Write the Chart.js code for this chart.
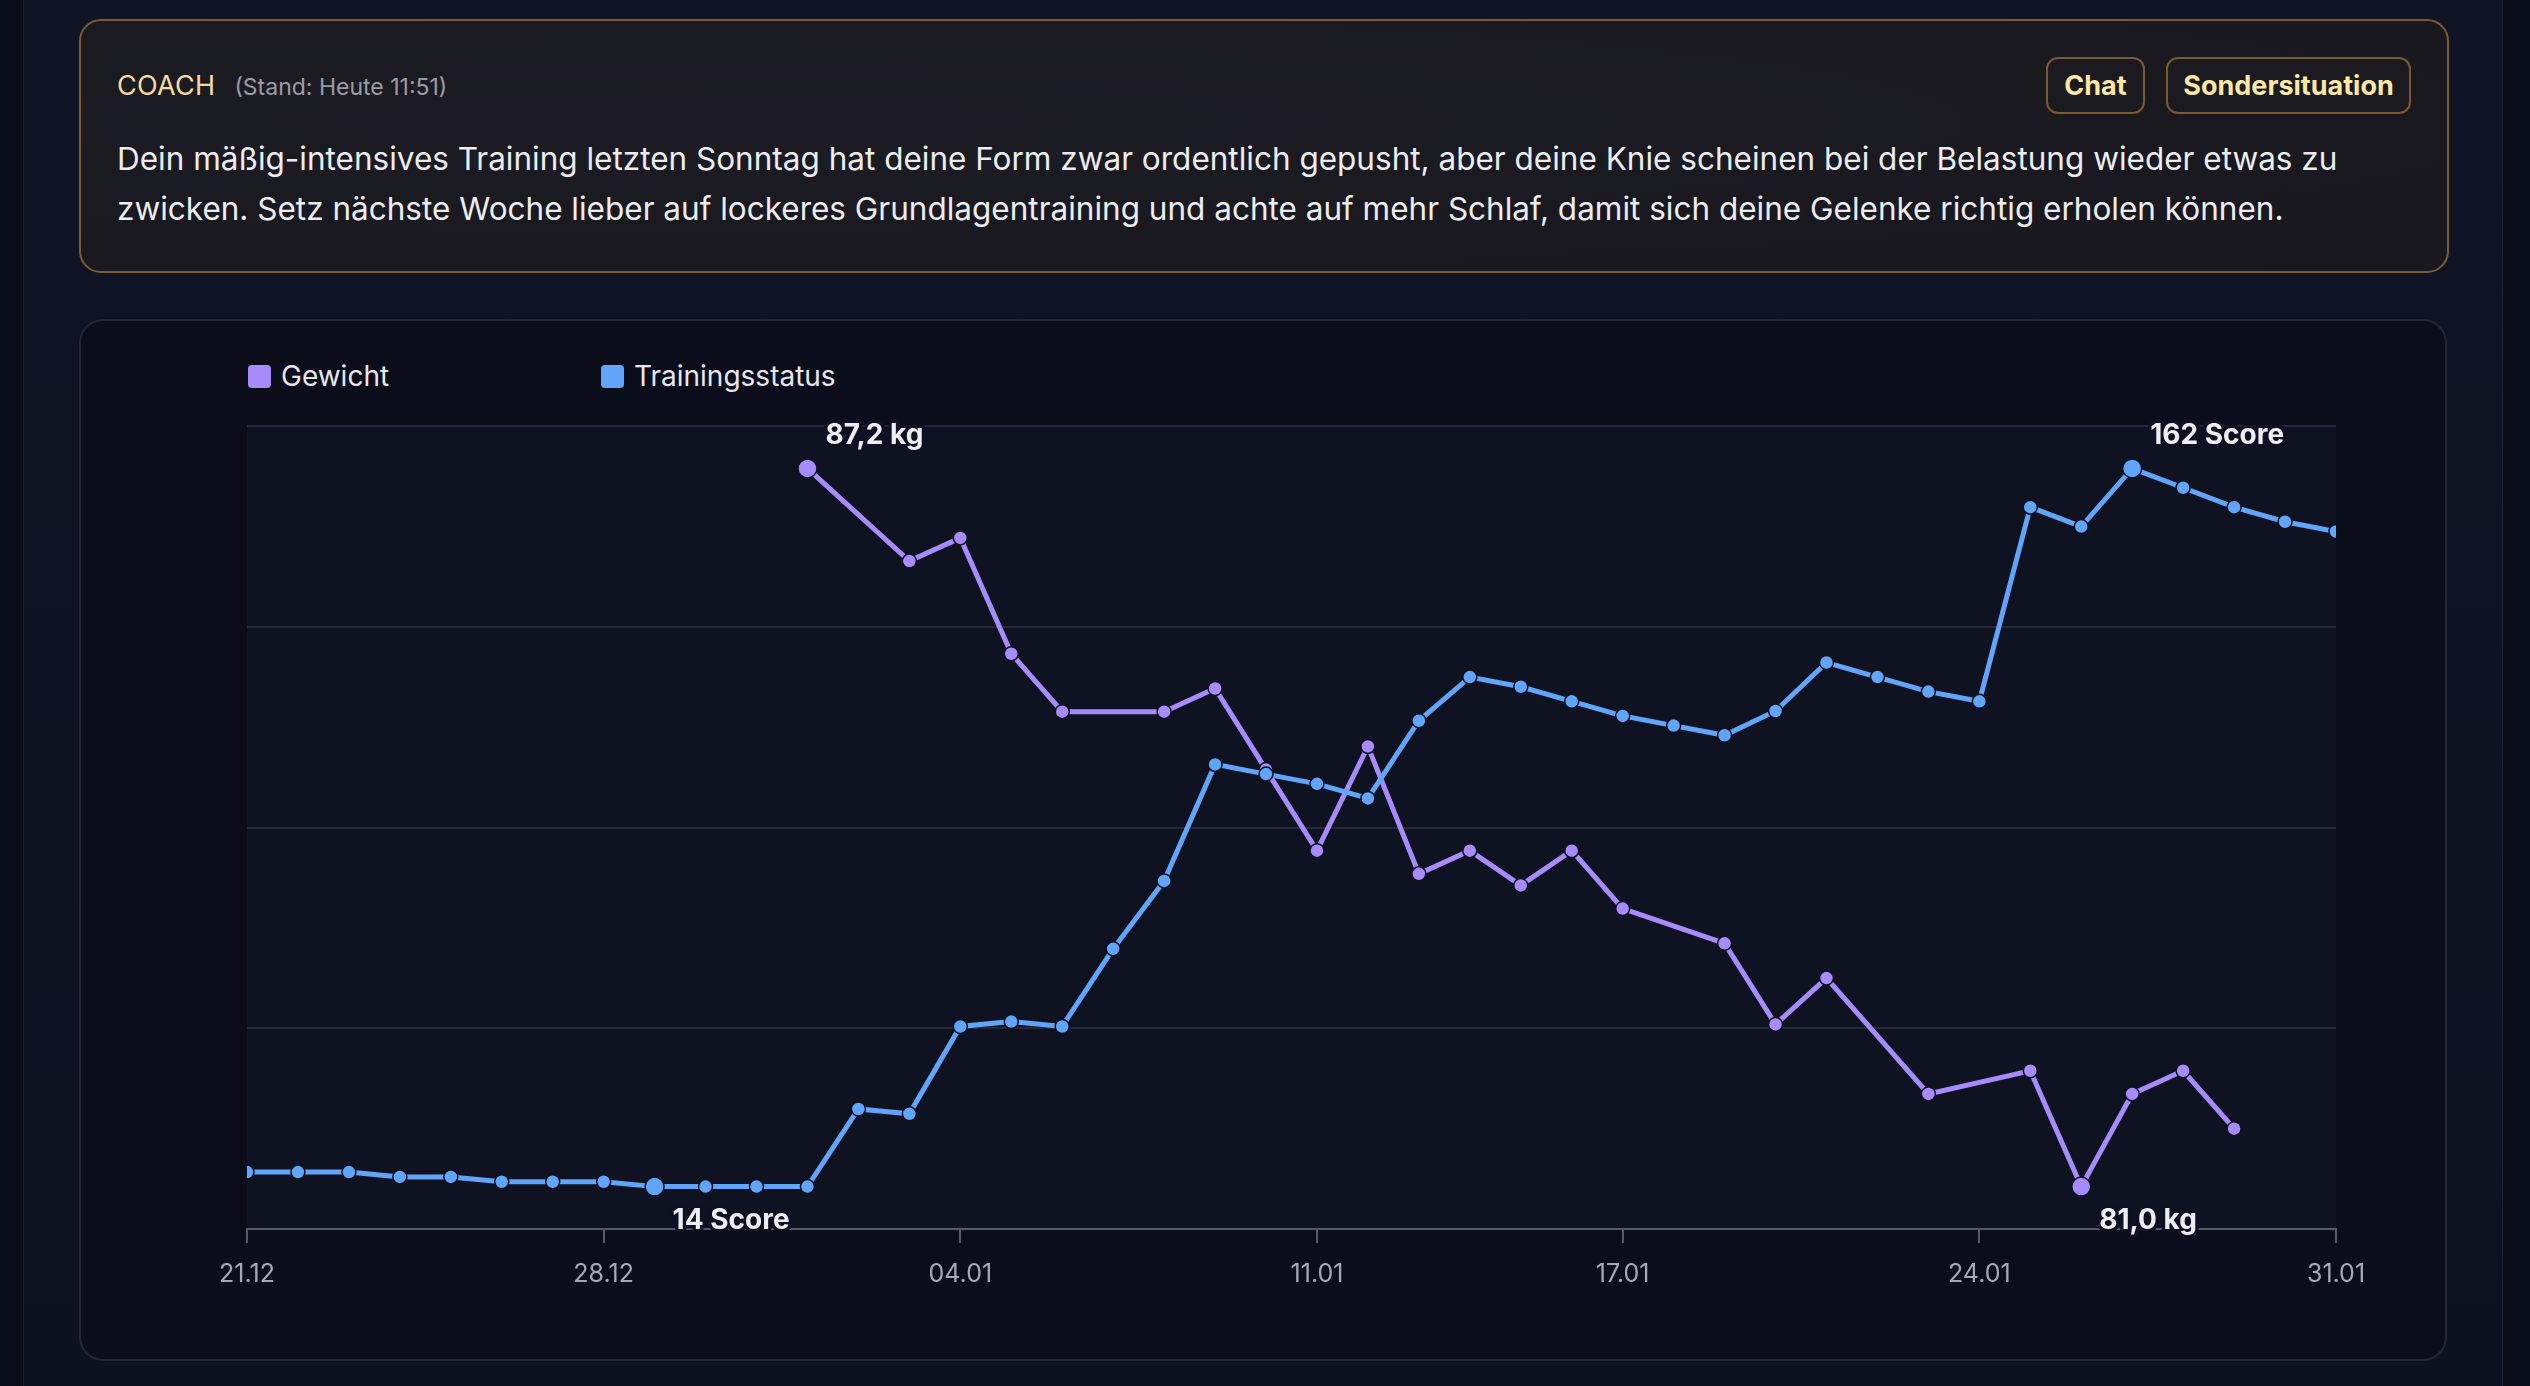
<!DOCTYPE html>
<html lang="de">
<head>
<meta charset="utf-8">
<title>Coach – Gewicht &amp; Trainingsstatus</title>
<script src="https://cdn.jsdelivr.net/npm/chart.js@4.4.1/dist/chart.umd.min.js"></script>
<style>
  html, body { margin: 0; padding: 0; }
  body {
    width: 2530px; height: 1386px; overflow: hidden; position: relative;
    background: #0a0e1a;
    font-family: Inter, "Noto Sans", sans-serif;
  }
  .panel {
    position: absolute; left: 23px; top: 0; width: 2480px; height: 1386px;
    background: linear-gradient(180deg, #101525 0%, #0d1221 100%);
    border-left: 1px solid #1b2132; border-right: 1px solid #1b2132;
    box-sizing: border-box;
  }
  .coach {
    position: absolute; left: 79px; top: 19px; width: 2370px; height: 254px;
    box-sizing: border-box; border: 2px solid #7a5c2c; border-radius: 22px;
    background: radial-gradient(ellipse at 25% 40%, #1d1c24 0%, #19191f 60%, #18181e 100%);
  }
  .coach-head { position: absolute; left: 36px; top: 52px; display: flex; align-items: baseline; }
  .coach-title { font-size: 27px; line-height: 26px; color: #f1dd9e; letter-spacing: 0.3px; }
  .coach-stand { font-size: 23px; line-height: 26px; color: #9c9ba3; margin-left: 19px; }
  .btn {
    position: absolute; top: 36px; height: 57px; box-sizing: border-box;
    border: 2px solid #7a5c2c; border-radius: 12px; background: #1a1a20;
    color: #fbe7a6; font-weight: 700; font-size: 27px;
    display: flex; align-items: center; justify-content: center;
  }
  .coach-text {
    position: absolute; left: 36px; top: 113px; width: 2300px;
    font-size: 31.5px; line-height: 50px; color: #ecedf2;
  }
  .card {
    position: absolute; left: 79px; top: 319px; width: 2368px; height: 1042px;
    box-sizing: border-box; border: 2px solid #222738; border-radius: 24px;
    background: #0b0e1a; overflow: hidden;
  }
  #legend { position: absolute; left: 167px; top: 39px; height: 32px; display: flex; }
  .lg-item { display: flex; align-items: center; width: 353px; }
  .lg-box { width: 23px; height: 23px; border-radius: 4px; margin-right: 10px; }
  .lg-text { font-size: 28px; line-height: 32px; color: #e6e7ee; }
  #chart { position: absolute; left: 0; top: 0; }
</style>
</head>
<body>
<div class="panel"></div>

<div class="coach">
  <div class="coach-head">
    <span class="coach-title">COACH</span>
    <span class="coach-stand">(Stand: Heute 11:51)</span>
  </div>
  <div class="btn" style="left:1965px; width:99px;">Chat</div>
  <div class="btn" style="left:2085px; width:245px;">Sondersituation</div>
  <div class="coach-text">Dein mäßig-intensives Training letzten Sonntag hat deine Form zwar ordentlich gepusht, aber deine Knie scheinen bei der Belastung wieder etwas zu zwicken. Setz nächste Woche lieber auf lockeres Grundlagentraining und achte auf mehr Schlaf, damit sich deine Gelenke richtig erholen können.</div>
</div>

<div class="card">
  <div id="legend"></div>
  <canvas id="chart" width="2364" height="1038"></canvas>
</div>

<script>
// ── DATA ──────────────────────────────────
const dates = [
  '21.12', '22.12', '23.12', '24.12', '25.12', '26.12', '27.12', '28.12', '29.12', '30.12', '31.12',
  '01.01', '02.01', '03.01', '04.01', '05.01', '06.01', '07.01', '08.01', '09.01', '10.01',
  '11.01', '12.01', '13.01', '14.01', '15.01', '16.01', '17.01', '18.01', '19.01', '20.01',
  '21.01', '22.01', '23.01', '24.01', '25.01', '26.01', '27.01', '28.01', '29.01', '30.01', '31.01'
];
const tickDates = ['21.12', '28.12', '04.01', '11.01', '17.01', '24.01', '31.01'];

// Gewicht in kg (null = kein Eintrag an dem Tag)
const weight = [
  null, null, null, null, null, null, null, null, null, null, null,
  87.2, null, 86.4, 86.6, 85.6, 85.1, null, 85.1, 85.3, 84.6,
  83.9, 84.8, 83.7, 83.9, 83.6, 83.9, 83.4, null, 83.1, 82.4,
  82.8, null, 81.8, null, 82.0, 81.0, 81.8, 82.0, 81.5, null, null
];

// Trainingsstatus Score
const training = [
  17, 17, 17, 16, 16, 15, 15, 15, 14, 14, 14,
  14, 30, 29, 47, 48, 47, 63, 77, 101, 99,
  97, 94, 110, 119, 117, 114, 111, 109, 107, 112,
  122, 119, 116, 114, 154, 150, 162, 158, 154, 151, 149
];

const PURPLE = '#a78bfa';
const BLUE = '#60a5fa';
const PLOT_BG = '#0e1221';
const PAD_RATIO = 0.059;

// ── HELPERS ───────────────────────────────
function extrema(arr) {
  let minIdx = -1, maxIdx = -1;
  arr.forEach((v, i) => {
    if (v === null) return;
    if (minIdx < 0 || v < arr[minIdx]) minIdx = i;
    if (maxIdx < 0 || v > arr[maxIdx]) maxIdx = i;
  });
  return { minIdx, maxIdx };
}

function paddedRange(arr) {
  const vals = arr.filter(v => v !== null);
  const lo = Math.min(...vals), hi = Math.max(...vals);
  const pad = (hi - lo) * PAD_RATIO;
  return { min: lo - pad, max: hi + pad };
}

const wExt = extrema(weight);
const tExt = extrema(training);
const wRange = paddedRange(weight);
const tRange = paddedRange(training);

function pointSize(ext, big, small) {
  return ctx => (ctx.dataIndex === ext.minIdx || ctx.dataIndex === ext.maxIdx) ? big : small;
}

// ── PLUGINS ───────────────────────────────
const plotBackground = {
  id: 'plotBackground',
  beforeDraw(chart) {
    const { ctx, chartArea: a } = chart;
    ctx.save();
    ctx.fillStyle = PLOT_BG;
    ctx.fillRect(a.left, a.top, a.right - a.left, a.bottom - a.top);
    ctx.restore();
  }
};

const extremaLabels = {
  id: 'extremaLabels',
  afterDatasetsDraw(chart) {
    const ctx = chart.ctx;
    chart.data.datasets.forEach((ds, di) => {
      const meta = chart.getDatasetMeta(di);
      const ext = extrema(ds.data);
      [[ext.maxIdx, -24], [ext.minIdx, 42]].forEach(([idx, dy]) => {
        const pt = meta.data[idx];
        if (!pt) return;
        const text = ds.formatValue(ds.data[idx]);
        ctx.save();
        ctx.font = '700 28px Inter';
        ctx.textAlign = 'left';
        ctx.textBaseline = 'alphabetic';
        ctx.lineJoin = 'round';
        ctx.lineWidth = 7;
        ctx.strokeStyle = 'rgba(14,18,33,0.92)';
        ctx.strokeText(text, pt.x + 18, pt.y + dy);
        ctx.fillStyle = '#eceef4';
        ctx.fillText(text, pt.x + 18, pt.y + dy);
        ctx.restore();
      });
    });
  }
};

// ── CHART ─────────────────────────────────
Chart.defaults.font.family = 'Inter';

const chart = new Chart(document.getElementById('chart'), {
  type: 'line',
  data: {
    labels: dates,
    datasets: [
      {
        label: 'Gewicht',
        data: weight,
        yAxisID: 'y',
        order: 1,
        borderColor: PURPLE,
        backgroundColor: PURPLE,
        pointBackgroundColor: PURPLE,
        pointBorderColor: PLOT_BG,
        pointBorderWidth: 1.5,
        pointRadius: pointSize(wExt, 9.5, 7),
        borderWidth: 5,
        spanGaps: true,
        tension: 0,
        clip: 0,
        formatValue: v => v.toFixed(1).replace('.', ',') + ' kg'
      },
      {
        label: 'Trainingsstatus',
        data: training,
        yAxisID: 'y1',
        order: 0,
        borderColor: BLUE,
        backgroundColor: BLUE,
        pointBackgroundColor: BLUE,
        pointBorderColor: PLOT_BG,
        pointBorderWidth: 1.5,
        pointRadius: pointSize(tExt, 9.5, 7),
        borderWidth: 5,
        tension: 0,
        clip: 0,
        formatValue: v => v + ' Score'
      }
    ]
  },
  options: {
    responsive: false,
    animation: false,
    layout: { padding: { left: 166, right: 109, top: 105, bottom: 54 } },
    plugins: {
      legend: { display: false },
      tooltip: { enabled: false }
    },
    scales: {
      x: {
        type: 'category',
        offset: false,
        grid: { drawOnChartArea: false, drawTicks: true, tickLength: 14, tickColor: '#545a6c', lineWidth: 2 },
        border: { color: '#545a6c', width: 2 },
        ticks: { autoSkip: false, maxRotation: 0, color: '#a4a8b7', font: { size: 25 }, padding: 16 },
        afterBuildTicks(scale) {
          scale.ticks = scale.ticks.filter(t => tickDates.includes(dates[t.value]));
        }
      },
      y: {
        position: 'left',
        min: wRange.min,
        max: wRange.max,
        ticks: { display: false, count: 5 },
        grid: { color: '#242839', lineWidth: 2, drawTicks: false },
        border: { display: false }
      },
      y1: {
        position: 'right',
        min: tRange.min,
        max: tRange.max,
        ticks: { display: false },
        grid: { display: false, drawTicks: false },
        border: { display: false }
      }
    }
  },
  plugins: [plotBackground, extremaLabels]
});

// ── LEGEND ────────────────────────────────
const legendEl = document.getElementById('legend');
chart.data.datasets.forEach(ds => {
  const item = document.createElement('div');
  item.className = 'lg-item';
  item.innerHTML = `<span class="lg-box" style="background:${ds.borderColor}"></span><span class="lg-text">${ds.label}</span>`;
  legendEl.appendChild(item);
});
</script>
</body>
</html>
